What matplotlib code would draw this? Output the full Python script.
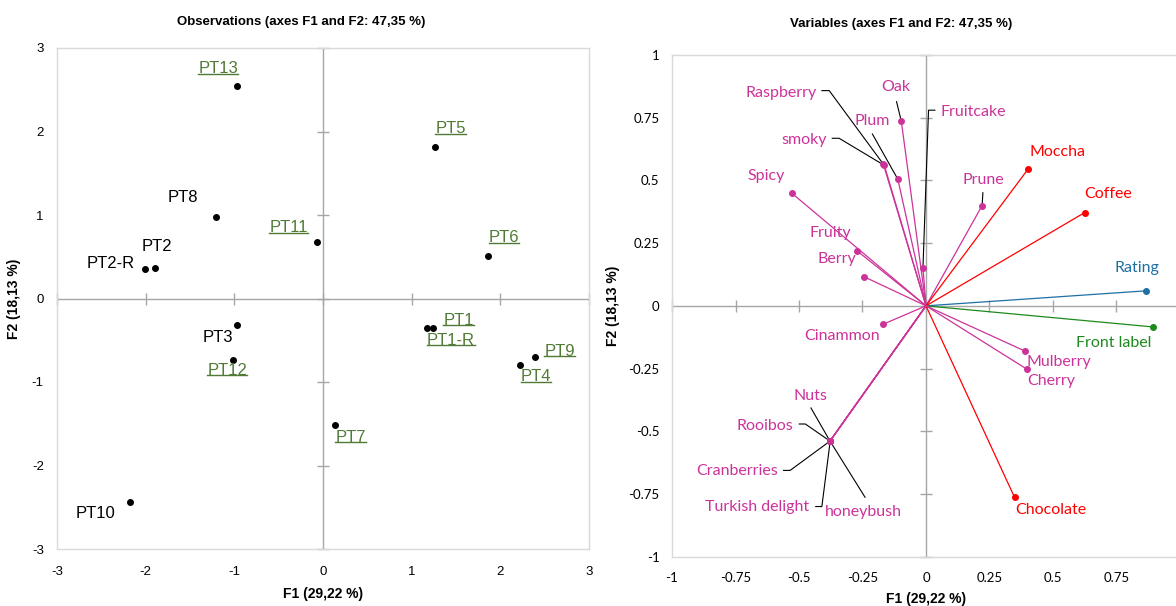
import numpy as np
import matplotlib
matplotlib.use("Agg")
import matplotlib.pyplot as plt
from matplotlib.lines import Line2D

plt.rcParams["axes.unicode_minus"] = False

# ---- observations (left panel) ----
obs_names = ["PT13", "PT5", "PT8", "PT11", "PT6", "PT2-R", "PT2", "PT3", "PT12",
             "PT1-R", "PT1", "PT9", "PT4", "PT7", "PT10"]
obs_f1 = [-0.97, 1.26, -1.21, -0.07, 1.86, -2.01, -1.90, -0.97, -1.02,
          1.17, 1.24, 2.39, 2.22, 0.13, -2.18]
obs_f2 = [2.54, 1.81, 0.98, 0.68, 0.51, 0.35, 0.36, -0.32, -0.74,
          -0.35, -0.35, -0.70, -0.80, -1.52, -2.44]
obs_green = ["PT13", "PT5", "PT11", "PT6", "PT12", "PT1-R", "PT1", "PT9", "PT4", "PT7"]

# ---- variables (right panel) ----
var_names = ["Oak", "Fruitcake", "Raspberry", "smoky", "Plum", "Spicy", "Prune",
             "Moccha", "Coffee", "Fruity", "Berry", "Rating", "Front label",
             "Cinammon", "Mulberry", "Cherry", "Chocolate",
             "Nuts", "Rooibos", "Cranberries", "Turkish delight", "honeybush"]
var_f1 = [-0.097, -0.012, -0.168, -0.164, -0.111, -0.527, 0.221,
          0.401, 0.625, -0.270, -0.246, 0.868, 0.893,
          -0.168, 0.389, 0.398, 0.349,
          -0.378, -0.378, -0.379, -0.377, -0.378]
var_f2 = [0.735, 0.152, 0.565, 0.560, 0.505, 0.448, 0.400,
          0.544, 0.372, 0.218, 0.117, 0.060, -0.084,
          -0.073, -0.180, -0.253, -0.764,
          -0.539, -0.539, -0.540, -0.538, -0.539]
var_group = ["m", "m", "m", "m", "m", "m", "m",
             "r", "r", "m", "m", "b", "g",
             "m", "m", "m", "r",
             "m", "m", "m", "m", "m"]

obs_ticks = [-3, -2, -1, 0, 1, 2, 3]
var_ticks = [-1, -0.75, -0.5, -0.25, 0, 0.25, 0.5, 0.75, 1]

colors = {"m": "#cc3399", "r": "#ff0000", "b": "#1f6fa5", "g": "#1e8a1e"}
green_lab = "#507a36"
axis_gray = "#a6a6a6"
box_gray = "#d9d9d9"

# label placement: name -> (x, y, ha)
obs_lab = {
    "PT13": (-1.18, 2.75, "center"), "PT5": (1.44, 2.03, "center"),
    "PT8": (-1.58, 1.21, "center"), "PT11": (-0.39, 0.85, "center"),
    "PT6": (2.04, 0.73, "center"), "PT2": (-1.87, 0.62, "center"),
    "PT2-R": (-2.39, 0.42, "center"), "PT3": (-1.18, -0.47, "center"),
    "PT12": (-1.08, -0.86, "center"), "PT1": (1.53, -0.26, "center"),
    "PT1-R": (1.44, -0.50, "center"), "PT9": (2.67, -0.63, "center"),
    "PT4": (2.40, -0.94, "center"), "PT7": (0.31, -1.66, "center"),
    "PT10": (-2.57, -2.57, "center"),
}
# name -> (x, y, ha, leader start, leader bend or None)
var_lab = {
    "Oak": (-0.119, 0.874, "center", (-0.116, 0.814), None),
    "Fruitcake": (0.058, 0.774, "left", (0.035, 0.78), (0.010, 0.78)),
    "Raspberry": (-0.431, 0.85, "right", (-0.41, 0.858), (-0.381, 0.858)),
    "smoky": (-0.391, 0.661, "right", (-0.369, 0.668), (-0.342, 0.668)),
    "Plum": (-0.211, 0.738, "center", (-0.211, 0.685), None),
    "Spicy": (-0.628, 0.519, "center", None, None),
    "Prune": (0.224, 0.501, "center", (0.224, 0.451), None),
    "Moccha": (0.517, 0.614, "center", None, None),
    "Coffee": (0.716, 0.444, "center", None, None),
    "Fruity": (-0.378, 0.289, "center", None, None),
    "Berry": (-0.349, 0.187, "center", None, None),
    "Rating": (0.829, 0.152, "center", None, None),
    "Front label": (0.737, -0.150, "center", None, None),
    "Cinammon": (-0.330, -0.121, "center", None, None),
    "Mulberry": (0.524, -0.225, "center", None, None),
    "Cherry": (0.493, -0.301, "center", None, None),
    "Chocolate": (0.492, -0.812, "center", None, None),
    "Nuts": (-0.454, -0.358, "center", (-0.453, -0.407), None),
    "Rooibos": (-0.522, -0.477, "right", (-0.499, -0.471), (-0.475, -0.471)),
    "Cranberries": (-0.583, -0.659, "right", (-0.561, -0.656), (-0.535, -0.656)),
    "Turkish delight": (-0.46, -0.802, "right", (-0.434, -0.80), (-0.41, -0.80)),
    "honeybush": (-0.398, -0.820, "left", (-0.240, -0.763), None),
}

W, H = 1176, 606
fig = plt.figure(figsize=(W / 100, H / 100), dpi=100)


def style_axes(ax, ticks, tick_font, tick_size, xpad, ypad):
    for s in ax.spines.values():
        s.set_color(box_gray)
        s.set_linewidth(1.0)
    ax.set_xticks(ticks)
    ax.set_yticks(ticks)
    ax.tick_params(axis="x", length=0, pad=xpad)
    ax.tick_params(axis="y", length=0, pad=ypad)
    ax.axhline(0, color=axis_gray, lw=1.0, zorder=1)
    ax.axvline(0, color=axis_gray, lw=1.0, zorder=1)
    ax.plot(np.zeros(len(ticks)), ticks, ls="none", marker="_", ms=8,
            mew=1.0, color=axis_gray, zorder=1, clip_on=False)
    ax.plot(ticks, np.zeros(len(ticks)), ls="none", marker="|", ms=8,
            mew=1.0, color=axis_gray, zorder=1, clip_on=False)


# ---------------- left panel ----------------
ax1 = fig.add_axes([57 / W, 1 - 549 / H, 532 / W, 501 / H])
ax1.set_xlim(-3, 3)
ax1.set_ylim(-3, 3)
style_axes(ax1, obs_ticks, "Liberation Sans", 9.5, 12.5, 9.5)
for lab in ax1.get_xticklabels() + ax1.get_yticklabels():
    lab.set_fontfamily("Liberation Sans")
    lab.set_fontsize(9.5)
ax1.scatter(obs_f1, obs_f2, s=16, color="black", zorder=3)
underlined = []
for n in obs_names:
    tx, ty, ha = obs_lab[n]
    green = n in obs_green
    t = ax1.text(tx, ty, n, ha=ha, va="center", fontsize=12,
                 family="Liberation Sans",
                 color=green_lab if green else "black")
    if green:
        underlined.append(t)
ax1.set_xlabel("F1 (29,22 %)", fontsize=10, fontweight="bold",
               family="Liberation Sans", labelpad=6)
ax1.set_ylabel("F2 (18,13 %)", fontsize=10, fontweight="bold",
               family="Liberation Sans", labelpad=8)
fig.text(301 / W, 1 - 22 / H, "Observations (axes F1 and F2: 47,35 %)",
         ha="center", va="center", fontsize=9.5, fontweight="bold",
         family="Liberation Sans")

# ---------------- right panel ----------------
ax2 = fig.add_axes([672 / W, 1 - 556.7 / H, 508 / W, 501.7 / H])
ax2.set_xlim(-1, 1)
ax2.set_ylim(-1, 1)
style_axes(ax2, var_ticks, "Lato", 9.5, 11, 9)
# the "1" on the F1 axis falls outside the picture in the reference
ax2.set_xticklabels([f"{v:g}" if v < 1 else "" for v in var_ticks])
ax2.set_yticklabels([f"{v:g}" for v in var_ticks])
for lab in ax2.get_xticklabels() + ax2.get_yticklabels():
    lab.set_fontfamily("Lato")
    lab.set_fontsize(9.5)

for n, x, y, g in zip(var_names, var_f1, var_f2, var_group):
    c = colors[g]
    ax2.plot([0, x], [0, y], color=c, lw=0.9, zorder=2)
    ax2.plot(x, y, "o", color=c, ms=4, zorder=4)
    tx, ty, ha, lead, bend = var_lab[n]
    ax2.text(tx, ty, n, ha=ha, va="center", fontsize=11.5, family="Lato",
             color=c)
    if lead is not None:
        pts = [lead] + ([bend] if bend else []) + [(x, y)]
        ax2.plot([p[0] for p in pts], [p[1] for p in pts], color="black",
                 lw=0.8, zorder=3)

ax2.set_xlabel("F1 (29,22 %)", fontsize=10, fontweight="bold",
               family="Liberation Sans", labelpad=6)
ax2.set_ylabel("F2 (18,13 %)", fontsize=10, fontweight="bold",
               family="Liberation Sans", labelpad=6)
fig.text(901 / W, 1 - 24 / H, "Variables (axes F1 and F2: 47,35 %)",
         ha="center", va="center", fontsize=9.5, fontweight="bold",
         family="Liberation Sans")

# underline the green observation labels
fig.canvas.draw()
renderer = fig.canvas.get_renderer()
inv = fig.transFigure.inverted()
for t in underlined:
    bb = t.get_window_extent(renderer)
    yline = bb.y0 + 0.16 * bb.height
    (x0, y0), (x1, _) = inv.transform([[bb.x0, yline], [bb.x1, yline]])
    fig.add_artist(Line2D([x0, x1], [y0, y0], color=green_lab, lw=1.0))

fig.savefig("out.png", dpi=100)
